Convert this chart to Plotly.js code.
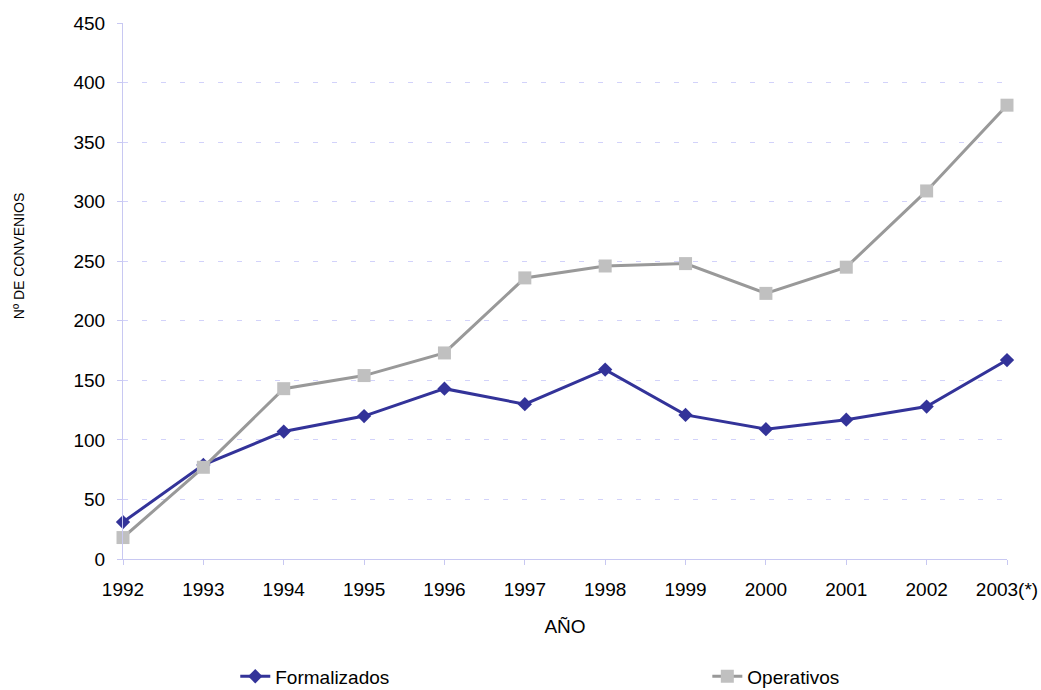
<!DOCTYPE html>
<html>
<head>
<meta charset="utf-8">
<script src="https://cdn.plot.ly/plotly-3.0.1.min.js"></script>
<style>html,body{margin:0;padding:0;background:#fff;}#chart{width:1041px;height:690px;}</style>
</head>
<body>
<div id="chart"></div>
<script>
const years = ["1992","1993","1994","1995","1996","1997","1998","1999","2000","2001","2002","2003(*)"];
const formalizados = [31, 79, 107, 120, 143, 130, 159, 121, 109, 117, 128, 167];
const operativos = [18, 77, 143, 154, 173, 236, 246, 248, 223, 245, 309, 381];
const yTicks = [0, 50, 100, 150, 200, 250, 300, 350, 400, 450];

const axisColor = '#c8c8f2';
const traces = [
  {
    x: years, y: formalizados, name: 'Formalizados', type: 'scatter', mode: 'lines+markers',
    line: {color: '#333399', width: 3},
    marker: {symbol: 'diamond', size: 11, color: '#333399'},
    cliponaxis: false, legend: 'legend'
  },
  {
    x: years, y: operativos, name: 'Operativos', type: 'scatter', mode: 'lines+markers',
    line: {color: '#999999', width: 3},
    marker: {symbol: 'square', size: 13, color: '#c0c0c0'},
    cliponaxis: false, legend: 'legend2'
  }
];

const legendFont = {family: 'Liberation Sans, Arial, sans-serif', size: 19, color: '#000'};
const layout = {
  width: 1041, height: 690,
  margin: {l: 123, r: 34, t: 23, b: 131, autoexpand: false},
  paper_bgcolor: '#fff', plot_bgcolor: '#fff',
  font: {family: 'Liberation Sans, Arial, sans-serif', size: 19, color: '#000'},
  showlegend: true,
  legend: {
    orientation: 'h', x: 0.127, xanchor: 'left', y: -0.219, yanchor: 'middle',
    font: legendFont, bgcolor: 'rgba(0,0,0,0)'
  },
  legend2: {
    orientation: 'h', x: 0.661, xanchor: 'left', y: -0.219, yanchor: 'middle',
    font: legendFont, bgcolor: 'rgba(0,0,0,0)'
  },
  xaxis: {
    type: 'category', range: [0, 11],
    showline: true, linecolor: axisColor, linewidth: 1,
    ticks: 'outside', ticklen: 5, tickcolor: axisColor,
    ticklabelstandoff: 8,
    showgrid: false, zeroline: false,
    tickfont: {size: 19},
    title: {text: 'AÑO', standoff: 20, font: {size: 19}}
  },
  yaxis: {
    range: [0, 450], tickvals: yTicks,
    showline: true, linecolor: axisColor, linewidth: 1,
    ticks: 'outside', ticklen: 5, tickcolor: axisColor,
    ticklabelstandoff: 8,
    showgrid: true, gridcolor: '#d2d2fa', griddash: '5px,14px', gridwidth: 1,
    zeroline: false,
    tickfont: {size: 19}
  },
  annotations: [{
    text: 'Nº DE CONVENIOS', textangle: -90, showarrow: false,
    xref: 'paper', yref: 'paper', x: -0.1176, y: 0.565,
    xanchor: 'center', yanchor: 'middle',
    font: {size: 14, color: '#000'}
  }]
};

Plotly.newPlot('chart', traces, layout, {displayModeBar: false, staticPlot: true});
</script>
</body>
</html>
